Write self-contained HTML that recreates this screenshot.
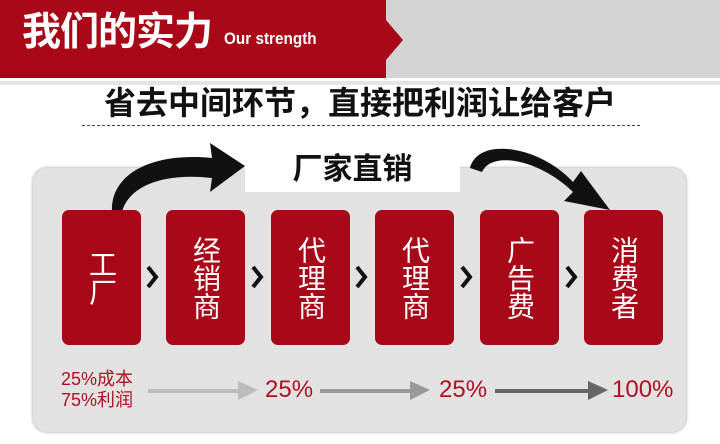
<!DOCTYPE html>
<html><head><meta charset="utf-8"><style>
body{margin:0;width:720px;height:444px;background:#fff;position:relative;overflow:hidden;font-family:"Liberation Sans","Noto Sans CJK SC",sans-serif}
.a{position:absolute}
.box{position:absolute;top:210px;width:79px;height:135px;background:#a80818;border-radius:7px;color:#fff;font-size:28px;line-height:35px;display:flex;align-items:center;justify-content:center;text-align:center;writing-mode:vertical-rl}
.pct{position:absolute;color:#b01020;font-size:24px}
</style></head><body>
<div class="a" style="left:0;top:0;width:386px;height:78px;background:#a80818"></div>
<div class="a" style="left:386px;top:0;width:334px;height:78px;background:#d4d4d4"></div>
<div class="a" style="left:386px;top:20px;width:0;height:0;border-top:20px solid transparent;border-bottom:20px solid transparent;border-left:17px solid #a80818"></div>
<div class="a" style="left:0;top:81px;width:720px;height:4px;background:#e4e4e4"></div>
<div class="a" style="left:22px;top:7px;color:#fff;font-size:39px;font-weight:bold;line-height:52px;letter-spacing:-1px">我们的实力</div>
<div class="a" style="left:224px;top:29px;color:#fff;font-size:17px;font-weight:bold;transform:scaleX(0.9);transform-origin:left">Our strength</div>
<div class="a" style="left:0;width:720px;top:82px;text-align:center;font-size:32px;font-weight:bold;color:#111;line-height:42px">省去中间环节，直接把利润让给客户</div>
<div class="a" style="left:82px;top:125px;width:558px;border-top:1px dashed #444"></div>
<div class="a" style="left:33px;top:168px;width:653px;height:264px;background:#e2e2e2;border-radius:14px;box-shadow:0 0 3px #999"></div>
<div class="a" style="left:245px;top:140px;width:215px;height:52px;background:#fff"></div>
<div class="a" style="left:245px;top:144px;width:215px;text-align:center;font-size:30px;font-weight:bold;color:#111">厂家直销</div>
<svg class="a" style="left:0;top:0" width="720" height="444">
<path d="M112 212 C110 175,150 152,212 158 L210 143 L245 166 L210 192 L212 178 C160 172,128 188,122 212 Z" fill="#111"/>
<path d="M470 168 C478 136,540 146,573 182 L581 171 L610 210 L564 201 L573 192 C540 160,492 150,482 172 Z" fill="#111"/>
<path d="M148 389 H238 V381 L258 390 L238 400 V393 H148Z" fill="#bcbcbc"/>
<path d="M320 389 H410 V381 L430 390 L410 400 V393 H320Z" fill="#999"/>
<path d="M495 389 H588 V381 L608 390 L588 400 V393 H495Z" fill="#666"/>
<g fill="none" stroke="#111" stroke-width="4">
<polyline points="148,267 156,277 148,287"/>
<polyline points="253,267 261,277 253,287"/>
<polyline points="357,267 365,277 357,287"/>
<polyline points="462,267 470,277 462,287"/>
<polyline points="567,267 575,277 567,287"/>
</g>
</svg>
<div class="box" style="left:62px">工厂</div>
<div class="box" style="left:166px">经销商</div>
<div class="box" style="left:271px">代理商</div>
<div class="box" style="left:375px">代理商</div>
<div class="box" style="left:480px">广告费</div>
<div class="box" style="left:584px">消费者</div>
<div class="pct" style="left:61px;top:369px;font-size:18px;line-height:21px">25%成本<br>75%利润</div>
<div class="pct" style="left:265px;top:376px">25%</div>
<div class="pct" style="left:439px;top:376px">25%</div>
<div class="pct" style="left:612px;top:376px">100%</div>
</body></html>
